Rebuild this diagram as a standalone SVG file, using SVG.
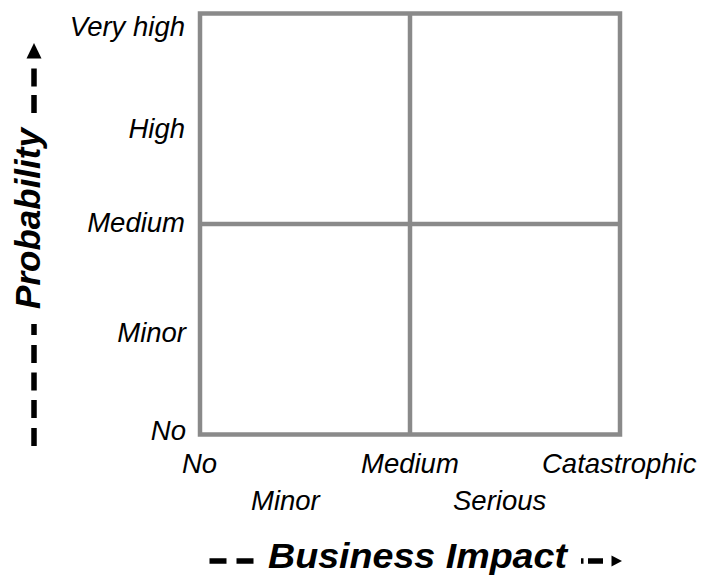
<svg xmlns="http://www.w3.org/2000/svg" width="702" height="575" viewBox="0 0 702 575">
  <style>
    .grid { fill: none; stroke: #8a8a8a; stroke-width: 4.5; }
    .lbl { font-family: "Liberation Sans", Arial, Helvetica, sans-serif; font-style: italic; font-size: 27.5px; fill: #000; }
    .title { font-family: "Liberation Sans", Arial, Helvetica, sans-serif; font-style: italic; font-weight: bold; font-size: 35px; fill: #000; }
    .dash { fill: none; stroke: #000; stroke-width: 5.5; stroke-linecap: butt; }
  </style>
  <rect width="702" height="575" fill="#fff"/>
  <g id="grid">
    <rect class="grid" x="200" y="13.5" width="420" height="421"/>
    <line class="grid" x1="410" y1="13.5" x2="410" y2="434.5"/>
    <line class="grid" x1="200" y1="224" x2="620" y2="224"/>
  </g>
  <g id="y-labels" class="lbl" text-anchor="end">
    <text x="185" y="36">Very high</text>
    <text x="185" y="137.5">High</text>
    <text x="185" y="232">Medium</text>
    <text x="186" y="342">Minor</text>
    <text x="186" y="440">No</text>
  </g>
  <g id="x-labels" class="lbl">
    <text x="182" y="473">No</text>
    <text x="361" y="473">Medium</text>
    <text x="542" y="473">Catastrophic</text>
    <text x="251" y="510">Minor</text>
    <text x="453" y="510">Serious</text>
  </g>
  <g id="connectors">
    <path class="dash" d="M34 68.5V86.5M34 95V113M34 324V335M34 345V363M34 372.5V390.5M34 400V418M34 428V446"/>
    <polygon points="34,43 26.5,58.5 41.5,58.5" fill="#000"/>
    <path class="dash" d="M209.5 561H226.5M236.5 561H253.5M581 561H583.5M588 561H603"/>
    <polygon points="622,561 611.5,555.5 611.5,566.5" fill="#000"/>
  </g>
  <g id="axis-titles">
    <text class="title" x="268" y="567.5" textLength="299" lengthAdjust="spacingAndGlyphs">Business Impact</text>
    <text class="title" x="40" y="218.5" text-anchor="middle" transform="rotate(-90 40 218.5)">Probability</text>
  </g>
</svg>
